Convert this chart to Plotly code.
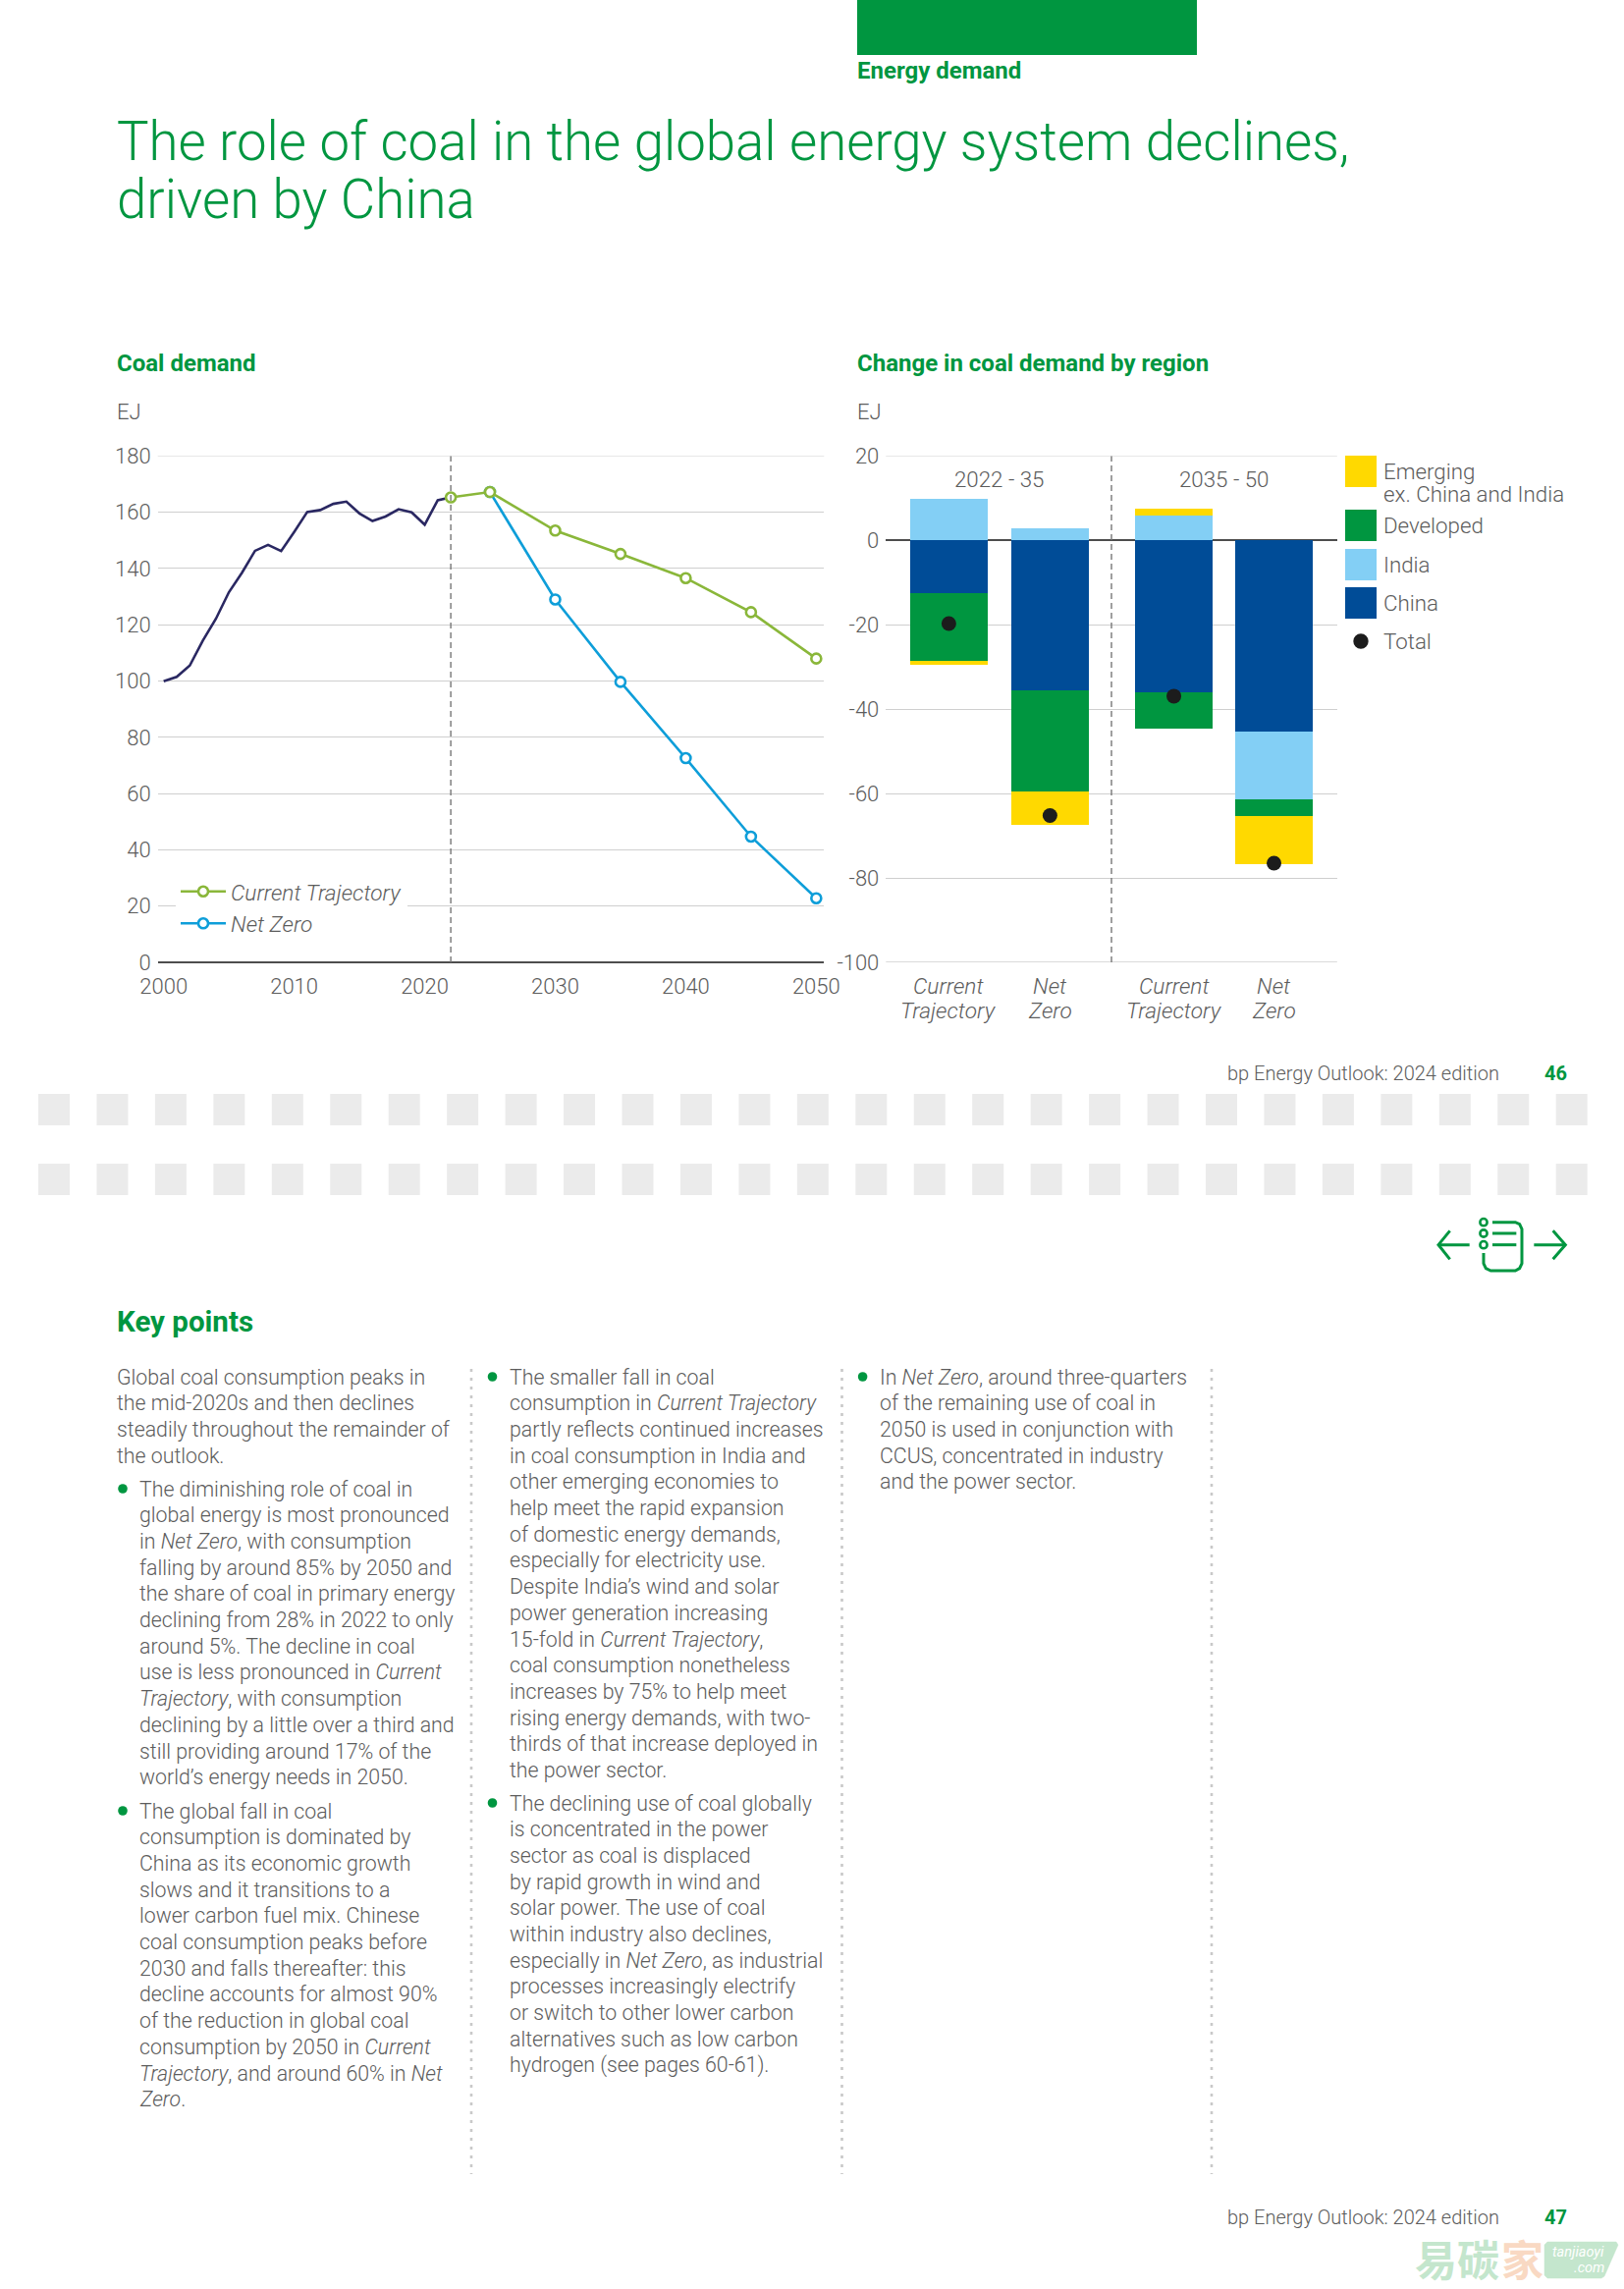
import plotly.graph_objects as go

# ---- data ----
hist_years = list(range(2000, 2023))
hist_values = [99.9, 101.5, 105.5, 114.4, 122.1, 131.6, 138.5, 146.3, 148.4, 146.2, 153.0, 160.1,
               160.8, 163.0, 163.8, 159.6, 156.9, 158.5, 161.1, 160.0, 155.6, 164.3, 165.3]
ct_years = [2022, 2025, 2030, 2035, 2040, 2045, 2050]
ct_values = [165.3, 167.2, 153.5, 145.2, 136.6, 124.5, 108.0]
nz_years = [2025, 2030, 2035, 2040, 2045, 2050]
nz_values = [167.2, 129.0, 99.7, 72.6, 44.7, 22.8]

left_yticks = [0, 20, 40, 60, 80, 100, 120, 140, 160, 180]
left_xticks = [2000, 2010, 2020, 2030, 2040, 2050]
right_yticks = [20, 0, -20, -40, -60, -80, -100]
right_ylabels = ["20", "0", "-20", "-40", "-60", "-80", "-100"]

scenario_labels = [["Current", "Trajectory"], ["Net", "Zero"], ["Current", "Trajectory"], ["Net", "Zero"]]
china = [-12.6, -35.6, -36.2, -45.3]
india = [9.8, 2.7, 5.8, -16.2]
developed = [-16.0, -23.9, -8.4, -4.0]
emerging = [-0.9, -8.0, 1.7, -11.3]
total = [-19.7, -65.2, -36.9, -76.5]

title_lines = ["The role of coal in the global energy system declines,", "driven by China"]
para_intro = ["Global coal consumption peaks in", "the mid-2020s and then declines",
              "steadily throughout the remainder of", "the outlook."]
bullet_1 = ["The diminishing role of coal in", "global energy is most pronounced",
            "in <i>Net Zero</i>, with consumption", "falling by around 85% by 2050 and",
            "the share of coal in primary energy", "declining from 28% in 2022 to only",
            "around 5%. The decline in coal", "use is less pronounced in <i>Current</i>",
            "<i>Trajectory</i>, with consumption", "declining by a little over a third and",
            "still providing around 17% of the", "world’s energy needs in 2050."]
bullet_2 = ["The global fall in coal", "consumption is dominated by",
            "China as its economic growth", "slows and it transitions to a",
            "lower carbon fuel mix. Chinese", "coal consumption peaks before",
            "2030 and falls thereafter: this", "decline accounts for almost 90%",
            "of the reduction in global coal", "consumption by 2050 in <i>Current</i>",
            "<i>Trajectory</i>, and around 60% in <i>Net</i>", "<i>Zero</i>."]
bullet_3 = ["The smaller fall in coal", "consumption in <i>Current Trajectory</i>",
            "partly reflects continued increases", "in coal consumption in India and",
            "other emerging economies to", "help meet the rapid expansion",
            "of domestic energy demands,", "especially for electricity use.",
            "Despite India’s wind and solar", "power generation increasing",
            "15-fold in <i>Current Trajectory</i>,", "coal consumption nonetheless",
            "increases by 75% to help meet", "rising energy demands, with two-",
            "thirds of that increase deployed in", "the power sector."]
bullet_4 = ["The declining use of coal globally", "is concentrated in the power",
            "sector as coal is displaced", "by rapid growth in wind and",
            "solar power. The use of coal", "within industry also declines,",
            "especially in <i>Net Zero</i>, as industrial", "processes increasingly electrify",
            "or switch to other lower carbon", "alternatives such as low carbon",
            "hydrogen (see pages 60-61)."]
bullet_5 = ["In <i>Net Zero</i>, around three-quarters", "of the remaining use of coal in",
            "2050 is used in conjunction with", "CCUS, concentrated in industry",
            "and the power sector."]

# ---- page geometry ----
W, H = 1654, 2331
GREEN = "#009640"
GREY = "#5c5c5c"
GRID = "#cfcfcf"
FONT = "Roboto"
C_CHINA, C_INDIA, C_DEV, C_EM = "#004c97", "#83cff5", "#009640", "#ffd900"


def px(x):
    return x / W


def py(y):
    return 1 - y / H


annotations = []
shapes = []


def text(x, y, s, size=22.3, color=GREY, weight=300, anchor="left", valign="middle", family=FONT):
    annotations.append(dict(x=px(x), y=py(y), xref="paper", yref="paper", text=s, showarrow=False,
                            xanchor=anchor, yanchor=valign, align=anchor, borderpad=0,
                            font=dict(family=family, size=size, color=color, weight=weight)))


def para(x, y, lines, size=21.3, leading=26.7):
    for i, line in enumerate(lines):
        text(x, y + i * leading, line, size=size)


def rect(x0, y0, x1, y1, color):
    shapes.append(dict(type="rect", xref="paper", yref="paper", x0=px(x0), x1=px(x1), y0=py(y0), y1=py(y1),
                       fillcolor=color, line_width=0, layer="below"))


def circle(cx, cy, r, fill, line=None, lw=0):
    shapes.append(dict(type="circle", xref="paper", yref="paper", x0=px(cx - r), x1=px(cx + r),
                       y0=py(cy + r), y1=py(cy - r), fillcolor=fill,
                       line=dict(color=line or fill, width=lw)))


def seg(pts, color=GREEN, width=2.6, dash=None):
    path = "M" + " L".join(f"{px(a):.5f},{py(b):.5f}" for a, b in pts)
    shapes.append(dict(type="path", xref="paper", yref="paper", path=path,
                       line=dict(color=color, width=width, dash=dash)))


# header
rect(873, 0, 1219, 56, GREEN)
text(871.6, 72, "Energy demand", size=24, color=GREEN, weight=700)
text(117.6, 144, title_lines[0], size=54.6, color=GREEN)
text(117.6, 203, title_lines[1], size=54.6, color=GREEN)

# chart headings
text(118, 370, "Coal demand", size=24, color=GREEN, weight=700)
text(871.6, 370, "Change in coal demand by region", size=24, color=GREEN, weight=700)
text(118, 420, "EJ", size=22)
text(871.6, 420, "EJ", size=22)

# right-hand key
rect(1370, 464, 1402, 496, C_EM)
rect(1370, 519, 1402, 551, C_DEV)
rect(1370, 559, 1402, 591, C_INDIA)
rect(1370, 598, 1402, 630, C_CHINA)
circle(1386, 653, 7.7, "#1c1c1c")
text(1408, 480.5, "Emerging")
text(1408, 502.5, "ex. China and India")
text(1408, 535, "Developed")
text(1408, 575.5, "India")
text(1408, 614, "China")
text(1408, 653, "Total")

# footers
text(1249.3, 1093, "bp Energy Outlook: 2024 edition", size=20)
text(1572, 1093, "46", size=20, color=GREEN, weight=700)
text(1249.3, 2257.7, "bp Energy Outlook: 2024 edition", size=20)
text(1572, 2257.7, "47", size=20, color=GREEN, weight=700)

# band of grey blocks
for row_top in (1114, 1185):
    for i in range(27):
        rect(39 + i * 59.45, row_top, 71 + i * 59.45, row_top + 32, "#ebebeb")

# navigation icon
ix = lambda v: 1455 + v / 3
iy = lambda v: 1230 + v / 3
seg([(ix(125), iy(113)), (ix(30), iy(113))], width=3)
seg([(ix(65), iy(70)), (ix(30), iy(113)), (ix(65), iy(157))], width=3)
seg([(ix(322), iy(113)), (ix(418), iy(113))], width=3)
seg([(ix(380), iy(70)), (ix(418), iy(113)), (ix(380), iy(157))], width=3)
seg([(ix(195), iy(44)), (ix(265), iy(44)), (ix(278), iy(50)), (ix(285), iy(65)), (ix(285), iy(170)),
     (ix(278), iy(185)), (ix(265), iy(192)), (ix(190), iy(192)), (ix(175), iy(185)), (ix(168), iy(170)),
     (ix(168), iy(138))], width=3)
seg([(ix(195), iy(78)), (ix(268), iy(78))], width=3)
seg([(ix(195), iy(113)), (ix(268), iy(113))], width=3)
for v in (44, 78, 113):
    circle(ix(168), iy(v), 3.6, "white", GREEN, 2.6)

# key points
text(118, 1346, "Key points", size=29.5, color=GREEN, weight=700)
para(118, 1402, para_intro)
circle(125, 1516, 4.8, GREEN)
para(140.6, 1516, bullet_1)
circle(125, 1844, 4.8, GREEN)
para(140.6, 1844, bullet_2)
circle(501.5, 1402, 4.8, GREEN)
para(518, 1402, bullet_3)
circle(501.5, 1836, 4.8, GREEN)
para(518, 1836, bullet_4)
circle(878.6, 1402, 4.8, GREEN)
para(895, 1402, bullet_5)
for lx in (480, 857.5, 1234):
    seg([(lx, 1394), (lx, 2214)], color="#c9c9c9", width=2.6, dash="3px,6px")

# watermark
text(1440, 2299, "易碳", size=43, color="#c4e6cd", weight=700, family="Noto Sans CJK SC")
text(1528, 2299, "家", size=43, color="#f9d9c3", weight=700, family="Noto Sans CJK SC")
seg([(1576, 2283), (1646, 2283), (1648, 2286), (1634, 2318), (1631, 2320), (1576, 2320), (1573, 2317),
     (1573, 2286), (1576, 2283)], color="#c4e6cd", width=0.5)
shapes[-1]["fillcolor"] = "#c4e6cd"
text(1580, 2293, "<i>tanjiaoyi</i>", size=14.5, color="white", weight=400)
text(1635, 2309, "<i>.com</i>", size=14.5, color="white", weight=400, anchor="right")

# ---- traces ----
fig = go.Figure()
LW = 2.6
fig.add_trace(go.Scatter(x=hist_years, y=hist_values, mode="lines", line=dict(color="#2a2862", width=LW),
                         showlegend=False, xaxis="x", yaxis="y"))
marker_nz = dict(symbol="circle", size=10, color="white", line=dict(color="#0e9ed9", width=2.6))
marker_ct = dict(symbol="circle", size=10, color="white", line=dict(color="#8ab73a", width=2.6))
fig.add_trace(go.Scatter(x=nz_years, y=nz_values, mode="lines+markers", name="Net Zero",
                         line=dict(color="#0e9ed9", width=LW), marker=marker_nz, legendrank=2,
                         xaxis="x", yaxis="y"))
fig.add_trace(go.Scatter(x=ct_years, y=ct_values, mode="lines+markers", name="Current Trajectory",
                         line=dict(color="#8ab73a", width=LW), marker=marker_ct, legendrank=1,
                         xaxis="x", yaxis="y"))

GROUP_GAP = 0.225
bar_x = [0, 1, 1 + 1 + GROUP_GAP, 2 + 1 + GROUP_GAP - 0.01]
for name, vals, col in (("China", china, C_CHINA), ("India", india, C_INDIA),
                        ("Developed", developed, C_DEV), ("Emerging ex. China and India", emerging, C_EM)):
    fig.add_trace(go.Bar(x=bar_x, y=vals, name=name, marker=dict(color=col, line_width=0), width=0.767,
                         showlegend=False, xaxis="x2", yaxis="y2"))
fig.add_trace(go.Scatter(x=bar_x, y=total, mode="markers", name="Total", showlegend=False,
                         marker=dict(color="#1c1c1c", size=15, line_width=0), xaxis="x2", yaxis="y2"))

# period labels and dividers tied to the axes
for lx, lbl in ((0.5, "2022 - 35"), (2.72, "2035 - 50")):
    annotations.append(dict(x=lx, y=14.4, xref="x2", yref="y2", text=lbl, showarrow=False, borderpad=0,
                            font=dict(family=FONT, size=22.3, color=GREY, weight=300)))
# two-line scenario labels under the bars
for bx, lines in zip(bar_x, scenario_labels):
    for line, ly in zip(lines, (1004, 1029.6)):
        annotations.append(dict(x=bx, y=py(ly), xref="x2", yref="paper", text=f"<i>{line}</i>", showarrow=False,
                                borderpad=0, yanchor="middle",
                                font=dict(family=FONT, size=22.7, color=GREY, weight=300)))
dash_style = dict(color="#777777", width=1.4, dash="6px,4px")
shapes.append(dict(type="line", xref="x", yref="y domain", x0=2022, x1=2022, y0=0, y1=1, line=dash_style))
shapes.append(dict(type="line", xref="x2", yref="y2 domain", x0=1.608, x1=1.608, y0=0, y1=1, line=dash_style))
# axis-end gridlines that plotly leaves out at the edge of the range
grid_edge = dict(color=GRID, width=1.4)
shapes.append(dict(type="line", xref="x2 domain", yref="y2", x0=0, x1=1, y0=-100, y1=-100, line=grid_edge, layer="below"))
shapes.append(dict(type="line", xref="x2 domain", yref="y2", x0=0, x1=1, y0=20, y1=20, line=grid_edge, layer="below"))
shapes.append(dict(type="line", xref="x domain", yref="y", x0=0, x1=1, y0=180, y1=180, line=grid_edge, layer="below"))

tick_font = dict(family=FONT, size=22, color=GREY, weight=300)
axis_common = dict(showline=False, ticks="", tickfont=tick_font, automargin=False)
fig.update_layout(
    width=W, height=H, autosize=False, margin=dict(l=0, r=0, t=0, b=0),
    paper_bgcolor="white", plot_bgcolor="white", barmode="relative", bargap=0,
    font=dict(family=FONT, size=21, color=GREY),
    xaxis=dict(domain=[160.7 / W, 839.3 / W], range=[1999.55, 2050.6], tickmode="array", tickvals=left_xticks,
               showgrid=False, zeroline=False, anchor="y", ticklabelstandoff=9, **axis_common),
    yaxis=dict(domain=[py(980), py(464.4)], range=[0, 180], tickmode="array", tickvals=left_yticks,
               gridcolor=GRID, gridwidth=1.4, zeroline=True, zerolinecolor="#4d4d4d", zerolinewidth=2.4,
               ticklabelstandoff=6, anchor="x", **axis_common),
    xaxis2=dict(domain=[902.3 / W, 1361.8 / W], range=[-0.622, 3.839], tickmode="array", tickvals=bar_x,
                showticklabels=False, showgrid=False, zeroline=False, anchor="y2", **axis_common),
    yaxis2=dict(domain=[py(980), py(464.4)], range=[-100, 20], tickmode="array", tickvals=right_yticks,
                ticktext=right_ylabels, gridcolor=GRID, gridwidth=1.4, zeroline=True, zerolinecolor="#4d4d4d",
                zerolinewidth=2.4, ticklabelstandoff=6, anchor="x2", **axis_common),
    legend=dict(x=px(179), y=py(886.5), xanchor="left", yanchor="top", bgcolor="white", borderwidth=0,
                itemwidth=46, itemclick=False, itemdoubleclick=False,
                font=dict(family=FONT, size=22.7, color=GREY, weight=300, style="italic")),
    annotations=annotations, shapes=shapes,
)

fig.write_html("out.html", config={"displayModeBar": False}, post_script="document.body.style.margin='0';")
